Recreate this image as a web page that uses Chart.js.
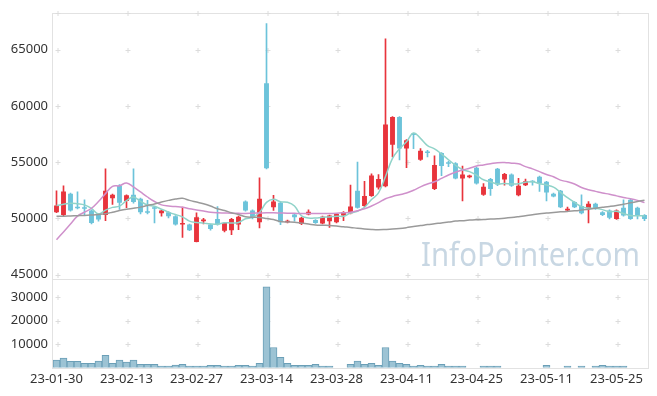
<!DOCTYPE html>
<html>
<head>
<meta charset="utf-8">
<script src="https://cdn.jsdelivr.net/npm/chart.js@4.4.0/dist/chart.umd.min.js"></script>
<style>
  html, body { margin: 0; padding: 0; background: #fff; }
  #wrap { width: 657px; height: 396px; position: relative; }
</style>
</head>
<body>
<div id="wrap"><canvas id="stockChart" width="657" height="396"></canvas></div>
<script>
// trading days (yy-mm-dd)
const dates = [
  "23-01-30","23-01-31","23-02-01","23-02-02","23-02-03","23-02-06","23-02-07","23-02-08","23-02-09","23-02-10",
  "23-02-13","23-02-14","23-02-15","23-02-16","23-02-17","23-02-20","23-02-21","23-02-22","23-02-23","23-02-24",
  "23-02-27","23-02-28","23-03-02","23-03-03","23-03-06","23-03-07","23-03-08","23-03-09","23-03-10","23-03-13",
  "23-03-14","23-03-15","23-03-16","23-03-17","23-03-20","23-03-21","23-03-22","23-03-23","23-03-24","23-03-27",
  "23-03-28","23-03-29","23-03-30","23-03-31","23-04-03","23-04-04","23-04-05","23-04-06","23-04-07","23-04-10",
  "23-04-11","23-04-12","23-04-13","23-04-14","23-04-17","23-04-18","23-04-19","23-04-20","23-04-21","23-04-24",
  "23-04-25","23-04-26","23-04-27","23-04-28","23-05-02","23-05-03","23-05-04","23-05-08","23-05-09","23-05-10",
  "23-05-11","23-05-12","23-05-15","23-05-16","23-05-17","23-05-18","23-05-19","23-05-22","23-05-23","23-05-24",
  "23-05-25","23-05-26","23-05-30","23-05-31","23-06-01"
];

const opens = [
  50550, 50300, 52200, 51000, 50950, 50700, 50350, 50300, 51800, 52900,
  51550, 52100, 51750, 50550, 50900, 50450, 50550, 50200, 49450, 49450,
  47900, 49750, 49450, 49950, 48900, 48950, 49450, 51500, 50700, 49650,
  62000, 51000, 51400, 49650, 50350, 49500, 50350, 49850, 49550, 49750,
  49650, 50250, 50450, 52450, 51100, 52000, 52750, 52850, 56550, 59000,
  56200, 57500, 55200, 55900, 52600, 55800, 54900, 54900, 53550, 53650,
  54500, 52100, 53500, 54400, 53450, 53900, 52050, 52950, 53300, 53700,
  53250, 52200, 52450, 50700, 51450, 51100, 50900, 51300, 50550, 50700,
  49950, 50950, 51650, 50950, 50300
];
const highs = [
  52450, 52900, 52250, 52350, 51650, 50750, 50400, 54400, 52150, 53000,
  52100, 54400, 51800, 51600, 51050, 50750, 50600, 50250, 51000, 49500,
  50500, 50000, 49500, 51050, 49650, 50000, 50200, 51550, 50750, 53600,
  67300, 52050, 51450, 49850, 50400, 50100, 50750, 49900, 50200, 50300,
  50450, 50600, 52950, 55000, 53300, 53950, 53900, 65950, 59050, 59050,
  57000, 57550, 56200, 56050, 55550, 55850, 55100, 54950, 54650, 53850,
  54550, 53100, 53550, 54450, 54000, 53950, 53550, 53500, 53350, 53750,
  53300, 52250, 52500, 51000, 51500, 52100, 51500, 51350, 50600, 50750,
  50750, 51650, 51700, 51000, 50350
];
const lows = [
  50500, 50250, 50650, 50850, 50300, 49500, 49750, 49800, 51250, 50800,
  50950, 51350, 50400, 50400, 49600, 50200, 50050, 49400, 48300, 48900,
  47900, 49500, 48950, 49400, 48800, 48550, 49000, 50650, 49950, 49150,
  54400, 50700, 49450, 49600, 49750, 49450, 50300, 49550, 49500, 49200,
  49600, 49800, 50400, 50900, 51050, 51950, 52600, 52800, 55450, 55200,
  54500, 56200, 55150, 55450, 52550, 53800, 54600, 53500, 51550, 53600,
  53050, 52050, 52050, 52900, 52950, 52850, 52000, 52900, 52950, 52400,
  51550, 51900, 50950, 50650, 50950, 50400, 49600, 50800, 50250, 49950,
  49900, 50200, 49900, 49950, 49800
];
const closes = [
  51150, 52400, 50700, 50900, 50850, 49600, 49900, 52450, 52100, 51400,
  52050, 51450, 50550, 50500, 50850, 50700, 50200, 49450, 49500, 48950,
  50100, 49900, 49050, 49450, 49600, 49950, 50150, 50700, 50050, 51750,
  54450, 51500, 49650, 49800, 50100, 50050, 50600, 49600, 50150, 50250,
  50400, 50550, 51050, 50950, 52000, 53800, 53500, 58350, 59000, 56200,
  56950, 57400, 56000, 55800, 54750, 54650, 54850, 53550, 53900, 53800,
  53100, 52800, 52600, 53000, 53950, 52900, 52900, 53300, 53200, 53100,
  52300, 51950, 51000, 50850, 51000, 50450, 51300, 50850, 50300, 50050,
  50700, 50250, 49950, 50250, 49950
];
const volumes = [
  3200, 4100, 2700, 2700, 1850, 1850, 2800, 5300, 1850, 3200,
  2350, 3200, 1450, 1450, 1450, 650, 650, 1100, 1450, 650,
  650, 650, 1000, 1000, 650, 650, 1000, 1000, 650, 1850,
  34500, 8600, 4400, 1850, 1000, 1000, 1000, 1450, 650, 650,
  0, 0, 1450, 2800, 1450, 1850, 1000, 8600, 2800, 1850,
  1450, 650, 1000, 650, 650, 1450, 650, 650, 650, 0,
  0, 650, 650, 650, 0, 0, 0, 0, 0, 0,
  1000, 0, 0, 650, 0, 650, 0, 650, 1000, 650,
  650, 650, 0, 0, 0
];
// moving average lines
const ma5 = [
  51150, 51250, 51350, 51300, 51200, 50890, 50390, 50740, 50980, 51090,
  51580, 51890, 51510, 51190, 51080, 50810, 50560, 50340, 50140, 49760,
  49640, 49580, 49500, 49490, 49620, 49590, 49640, 49970, 50090, 50520,
  51420, 51690, 51480, 51430, 51100, 50220, 50040, 50030, 50100, 50130,
  50200, 50190, 50480, 50640, 50990, 51670, 52260, 53720, 55330, 56170,
  56800, 57580, 57110, 56470, 56180, 55720, 55210, 54720, 54340, 54150,
  53840, 53430, 53240, 53060, 53090, 53050, 53070, 53210, 53250, 53080,
  52960, 52770, 52310, 51840, 51420, 51050, 50920, 50890, 50780, 50590,
  50640, 50430, 50250, 50240, 50220
];
const ma20 = [
  48100, 48800, 49500, 50200, 50550, 50900, 51500, 52200, 52850, 52900,
  53150, 52800, 52350, 51900, 51500, 51200, 51100, 51050, 51000, 50850,
  50750, 50650, 50550, 50500, 50480, 50460, 50450, 50440, 50460, 50480,
  50500, 50500, 50480, 50460, 50450, 50440, 50440, 50440, 50440, 50440,
  50460, 50500, 50550, 50680, 50850, 51100, 51400, 51750, 51950, 52100,
  52250, 52500, 52800, 53050, 53250, 53550, 53850, 54100, 54300, 54450,
  54650, 54750, 54850, 54950, 54970, 54900, 54850, 54600, 54400, 54150,
  53900, 53700, 53400, 53250, 53050, 52750, 52550, 52400, 52250, 52150,
  52000, 51850, 51750, 51600, 51400
];
const ma60 = [
  50200, 50200, 50220, 50240, 50260, 50300, 50350, 50420, 50550, 50700,
  50820, 50900, 51000, 51150, 51280, 51450, 51600, 51720, 51780, 51600,
  51450, 51300, 51100, 50850, 50700, 50500, 50350, 50150, 50100, 50080,
  50000, 49900, 49720, 49680, 49660, 49580, 49500, 49420, 49390, 49370,
  49320, 49250, 49200, 49120, 49060, 49020, 49000, 49020, 49050, 49100,
  49180, 49280, 49360, 49450, 49520, 49600, 49670, 49760, 49800, 49850,
  49880, 49900, 49940, 49970, 50010, 50070, 50150, 50240, 50320, 50420,
  50480, 50530, 50580, 50620, 50670, 50740, 50820, 50900, 50980, 51060,
  51150, 51260, 51380, 51500, 51620
];
const priceTicks = [45000, 50000, 55000, 60000, 65000];
const volumeTicks = [10000, 20000, 30000];

const UP = "#e8343c", DOWN = "#6cc3da";
const candleColors = opens.map((o, i) => closes[i] >= o ? UP : DOWN);
const FONT = "'Noto Sans', sans-serif";

// light '+' marks, plot frames and the watermark
const decor = {
  id: "decor",
  beforeDatasetsDraw(chart) {
    const ctx = chart.ctx;
    const x = chart.scales.x, yP = chart.scales.y, yV = chart.scales.yVol;
    ctx.save();
    // watermark
    ctx.font = "33px " + FONT;
    ctx.fillStyle = "rgba(190,208,222,0.85)";
    ctx.textBaseline = "alphabetic";
    const txt = "InfoPointer.com";
    const w = ctx.measureText(txt).width;
    ctx.translate(421, 266);
    ctx.scale(219 / w, 1);
    ctx.fillText(txt, 0, 0);
    ctx.restore();

    ctx.save();
    ctx.lineWidth = 1;
    ctx.strokeStyle = "#e2e2e2";
    ctx.strokeRect(Math.round(x.left) - 0.5, Math.round(yP.top) + 0.5, Math.round(x.right - x.left) + 1, Math.round(yP.bottom - yP.top));
    ctx.strokeRect(Math.round(x.left) - 0.5, Math.round(yV.top) + 0.5, Math.round(x.right - x.left) + 1, Math.round(yV.bottom - yV.top));
    ctx.strokeStyle = "#dcdcdc";
    const xs = [];
    for (let i = 0; i < dates.length; i += 10) xs.push(Math.round(x.getPixelForValue(i)) + 0.5);
    const ys = priceTicks.map(v => Math.round(yP.getPixelForValue(v)) + 0.5)
      .concat(volumeTicks.map(v => Math.round(yV.getPixelForValue(v)) + 0.5))
      .concat([Math.round(yP.top) + 0.5]);
    ctx.beginPath();
    xs.forEach(px => ys.forEach(py => {
      ctx.moveTo(px - 2, py); ctx.lineTo(px + 3, py);
      ctx.moveTo(px + 0.5, py - 2.5); ctx.lineTo(px + 0.5, py + 2.5);
    }));
    ctx.stroke();
    ctx.restore();
  }
};

new Chart(document.getElementById("stockChart"), {
  data: {
    labels: dates,
    datasets: [
      { type: "line", data: ma60, borderColor: "#9a9a9a", borderWidth: 1.5, pointRadius: 0, tension: 0.4, yAxisID: "y", order: 0 },
      { type: "line", data: ma20, borderColor: "#cf90cb", borderWidth: 1.5, pointRadius: 0, tension: 0.4, yAxisID: "y", order: 0 },
      { type: "line", data: ma5, borderColor: "#90d3c9", borderWidth: 1.5, pointRadius: 0, tension: 0.4, yAxisID: "y", order: 0 },
      { type: "bar", data: lows.map((l, i) => [l, highs[i]]), backgroundColor: candleColors,
        barThickness: 1, grouped: false, yAxisID: "y", order: 2 },
      { type: "bar", data: opens.map((o, i) => [o, closes[i]]), backgroundColor: candleColors,
        barPercentage: 0.7, categoryPercentage: 1, minBarLength: 1.5, grouped: false, yAxisID: "y", order: 1 },
      { type: "bar", data: volumes, backgroundColor: "#9cc3d4", borderColor: "#6b9fb7", borderWidth: 1,
        barPercentage: 1, categoryPercentage: 1, grouped: false, yAxisID: "yVol", order: 1 }
    ]
  },
  options: {
    responsive: false,
    animation: false,
    layout: { padding: { top: 10, right: 9, bottom: 8.3, left: 0 } },
    plugins: { legend: { display: false }, tooltip: { enabled: false } },
    scales: {
      x: {
        type: "category",
        offset: true,
        grid: { display: false, drawTicks: false },
        border: { display: false },
        ticks: {
          autoSkip: false, maxRotation: 0, minRotation: 0, padding: 4,
          color: "#333", font: { family: FONT, size: 13 },
          callback: function (v, i) { return i % 10 === 0 ? this.getLabelForValue(v) : ""; }
        },
        afterFit: s => { s.height = 20; }
      },
      // volume panel is declared first so that it is stacked below the price panel
      yVol: {
        position: "left", stack: "main", stackWeight: 1,
        min: 0, max: 37800,
        grid: { display: false, drawTicks: false },
        border: { display: false },
        ticks: { padding: 5, color: "#333", font: { family: FONT, size: 13 }, callback: v => String(v) },
        afterBuildTicks: s => { s.ticks = volumeTicks.map(v => ({ value: v })); },
        afterFit: s => { s.width = 53; }
      },
      y: {
        position: "left", stack: "main", stackWeight: 3,
        min: 44620, max: 68260,
        grid: { display: false, drawTicks: false },
        border: { display: false },
        ticks: { padding: 5, color: "#333", font: { family: FONT, size: 13 }, callback: v => String(v) },
        afterBuildTicks: s => { s.ticks = priceTicks.map(v => ({ value: v })); },
        afterFit: s => { s.width = 53; }
      }
    }
  },
  plugins: [decor]
});
</script>
</body>
</html>
